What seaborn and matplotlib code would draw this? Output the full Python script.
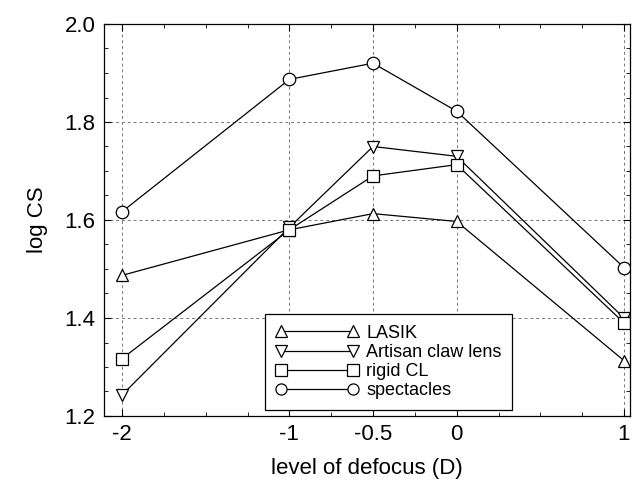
import matplotlib
matplotlib.use("Agg")
import matplotlib.pyplot as plt
import seaborn as sns
import pandas as pd
from matplotlib.ticker import MultipleLocator, FixedLocator, FormatStrFormatter

defocus = [-2, -1, -0.5, 0, 1]
xtick_labels = ["-2", "-1", "-0.5", "0", "1"]
lasik = [1.487, 1.580, 1.613, 1.597, 1.313]
artisan = [1.243, 1.585, 1.750, 1.730, 1.400]
rigid_cl = [1.317, 1.580, 1.690, 1.713, 1.390]
spectacles = [1.617, 1.887, 1.920, 1.822, 1.503]

series = [("LASIK", lasik, "^"), ("Artisan claw lens", artisan, "v"),
          ("rigid CL", rigid_cl, "s"), ("spectacles", spectacles, "o")]

sns.set_style("ticks")
plt.rcParams['font.family'] = ['Liberation Sans', 'DejaVu Sans']
plt.rcParams['text.color'] = 'black'
plt.rcParams['axes.labelcolor'] = 'black'
plt.rcParams['xtick.color'] = 'black'
plt.rcParams['ytick.color'] = 'black'

fig = plt.figure(figsize=(6.32, 4.91), dpi=100)
ax = fig.add_axes([104/632, 1-416/491, (630-104)/632, (416-24)/491])

for name, vals, m in series:
    df = pd.DataFrame({"x": defocus, "y": vals})
    sns.lineplot(data=df, x="x", y="y", ax=ax, color="black", lw=0.9,
                 marker=m, markersize=9, markerfacecolor="white",
                 markeredgecolor="black", markeredgewidth=0.9, label=name,
                 legend=False)

ax.set_xlim(-2.108, 1.036)
ax.set_ylim(1.2, 2.0)
ax.xaxis.set_major_locator(FixedLocator(defocus))
ax.xaxis.set_minor_locator(MultipleLocator(0.25))
ax.set_xticklabels(xtick_labels)
ax.yaxis.set_major_locator(MultipleLocator(0.2))
ax.yaxis.set_minor_locator(MultipleLocator(0.05))
ax.yaxis.set_major_formatter(FormatStrFormatter("%.1f"))
ax.tick_params(which="both", direction="in", top=True, right=True, labelsize=16, pad=6)
ax.tick_params(which="major", length=5, width=0.8)
ax.tick_params(which="minor", length=3, width=0.6)
ax.grid(True, which="major", ls=(0, (3, 3)), color="#777777", lw=0.7)
for s in ax.spines.values():
    s.set_linewidth(0.9)
    s.set_color("black")

ax.set_xlabel("level of defocus (D)", fontsize=16, labelpad=9)
ax.set_ylabel("log CS", fontsize=16, labelpad=12)

leg = ax.legend(loc="lower left", bbox_to_anchor=(0.306, 0.015),
                borderaxespad=0, numpoints=2, handlelength=4.6, fontsize=13,
                frameon=True, fancybox=False, edgecolor="black", framealpha=1,
                borderpad=0.6, labelspacing=0.12, handletextpad=0.4)
leg.get_frame().set_linewidth(0.9)
for h in leg.legend_handles:
    h.set_markersize(8)

fig.savefig("out.png", dpi=100)
